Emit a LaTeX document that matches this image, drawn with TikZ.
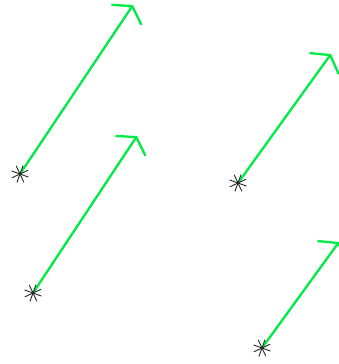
\documentclass[tikz,border=0pt]{standalone}
\usetikzlibrary{arrows.meta, calc}

\definecolor{vecgreen}{RGB}{0,235,70}

\begin{document}
\begin{tikzpicture}[
    x=1pt, y=-1pt,
    vec/.style={draw=vecgreen, line width=2.3pt,
                -{Straight Barb[length=10.5pt, width=36pt, line width=2.3pt]}},
    starline/.style={draw=black!85, line width=0.9pt}
  ]
  \useasboundingbox (0,0) rectangle (338,364);

  % Start points and tips
  \coordinate (s1) at (20,174);
  \coordinate (t1) at (133,5);
  \coordinate (s2) at (33,293);
  \coordinate (t2) at (137,136);
  \coordinate (s3) at (238,183);
  \coordinate (t3) at (331,54);
  \coordinate (s4) at (262,348);
  \coordinate (t4) at (339,242);

  % Vectors
  \foreach \i in {1,...,4} {
    \draw[vec] (s\i) -- (t\i);
  }

  % Asterisk markers
  \foreach \i in {1,...,4} {
    \foreach \a in {20,65,110,155} {
      \draw[starline] ($(s\i)+(\a:9)$) -- ($(s\i)+(\a+180:9)$);
    }
  }
\end{tikzpicture}
\end{document}
